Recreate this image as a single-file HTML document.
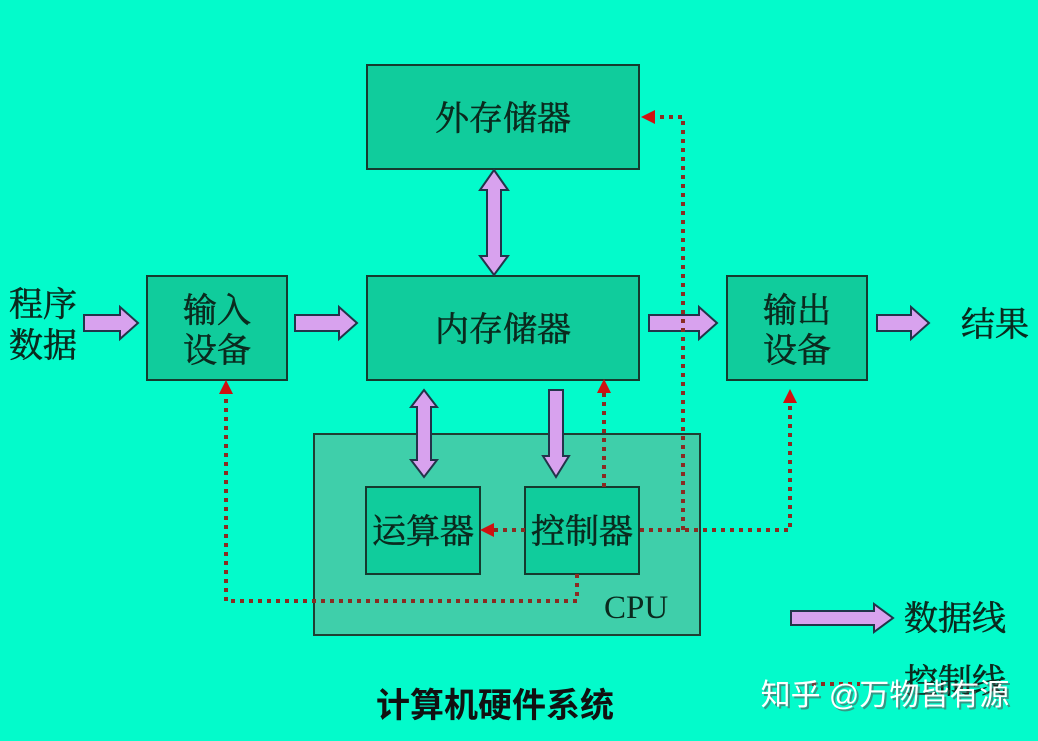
<!DOCTYPE html>
<html><head><meta charset="utf-8"><style>
html,body{margin:0;padding:0;background:#03fbcb;}
svg{display:block}
.t{font-family:"Liberation Serif","Noto Serif CJK SC",serif;font-size:34px;fill:#0a2a1e;stroke:#0a2a1e;stroke-width:0.6}
</style></head><body>
<svg width="1038" height="741" viewBox="0 0 1038 741" xmlns="http://www.w3.org/2000/svg">
<rect width="1038" height="741" fill="#03fbcb"/>
<rect x="314" y="434" width="386" height="201" fill="#3fcfaa" stroke="#1f3f33" stroke-width="2"/>
<g fill="#10cc9c" stroke="#153a2e" stroke-width="2">
<rect x="367" y="65" width="272" height="104"/>
<rect x="367" y="276" width="272" height="104"/>
<rect x="147" y="276" width="140" height="104"/>
<rect x="727" y="276" width="140" height="104"/>
<rect x="366" y="487" width="114" height="87"/>
<rect x="525" y="487" width="114" height="87"/>
</g>
<g fill="#d8a2ee" stroke="#23344a" stroke-width="2" stroke-linejoin="miter">
<polygon points="84,315 120,315 120,307 138,323 120,339 120,331 84,331"/>
<polygon points="295,315 339,315 339,307 357,323 339,339 339,331 295,331"/>
<polygon points="649,315 699,315 699,307 717,323 699,339 699,331 649,331"/>
<polygon points="877,315 911,315 911,307 929,323 911,339 911,331 877,331"/>
<polygon points="791,611 874,611 874,604 893,618 874,632 874,625 791,625"/>
<polygon points="494,170 508,190 501,190 501,256 508,256 494,275 480,256 487,256 487,190 480,190"/>
<polygon points="424,390 437,407 431,407 431,460 437,460 424,477 411,460 417,460 417,407 411,407"/>
<polygon points="549,390 563,390 563,456 569,456 556,477 543,456 549,456"/>
</g>
<g fill="none" stroke="#8a2c22" stroke-width="4" stroke-dasharray="4,5">
<polyline points="604,487 604,392"/>
<polyline points="640,530 790,530 790,402"/>
<polyline points="683,530 683,117 652,117"/>
<polyline points="525,530 492,530"/>
<polyline points="577,574 577,601 226,601 226,392"/>
<polyline points="812,684 860,684"/>
</g>
<g fill="#d01010">
<polygon points="604,379 597,393 611,393"/>
<polygon points="790,389 783,403 797,403"/>
<polygon points="641,117 655,110 655,124"/>
<polygon points="480,530 494,523 494,537"/>
<polygon points="226,380 219,394 233,394"/>
</g>
<g class="t" text-anchor="middle">
<text x="503" y="130">外存储器</text>
<text x="503" y="341">内存储器</text>
<text x="217" y="322">输入</text>
<text x="217" y="362">设备</text>
<text x="797" y="322">输出</text>
<text x="797" y="362">设备</text>
<text x="423" y="543">运算器</text>
<text x="582" y="543">控制器</text>
<text x="43" y="316">程序</text>
<text x="43" y="357">数据</text>
<text x="995" y="336">结果</text>
<text x="955" y="630">数据线</text>
<text x="955" y="693">控制线</text>
</g>
<text x="604" y="618" font-family="Liberation Serif,serif" font-size="33" fill="#0a2a1e">CPU</text>
<text x="495" y="717" text-anchor="middle" font-family="'Noto Sans CJK SC',sans-serif" font-weight="bold" font-size="34" fill="#111">计算机硬件系统</text>
<text x="885" y="705" text-anchor="middle" font-family="'Liberation Sans','Noto Sans CJK SC',sans-serif" font-size="30" fill="#555" opacity="0.6" transform="translate(2,2)">知乎 @万物皆有源</text>
<text x="885" y="705" text-anchor="middle" font-family="'Liberation Sans','Noto Sans CJK SC',sans-serif" font-size="30" fill="#ffffff">知乎 @万物皆有源</text>
</svg>
</body></html>
